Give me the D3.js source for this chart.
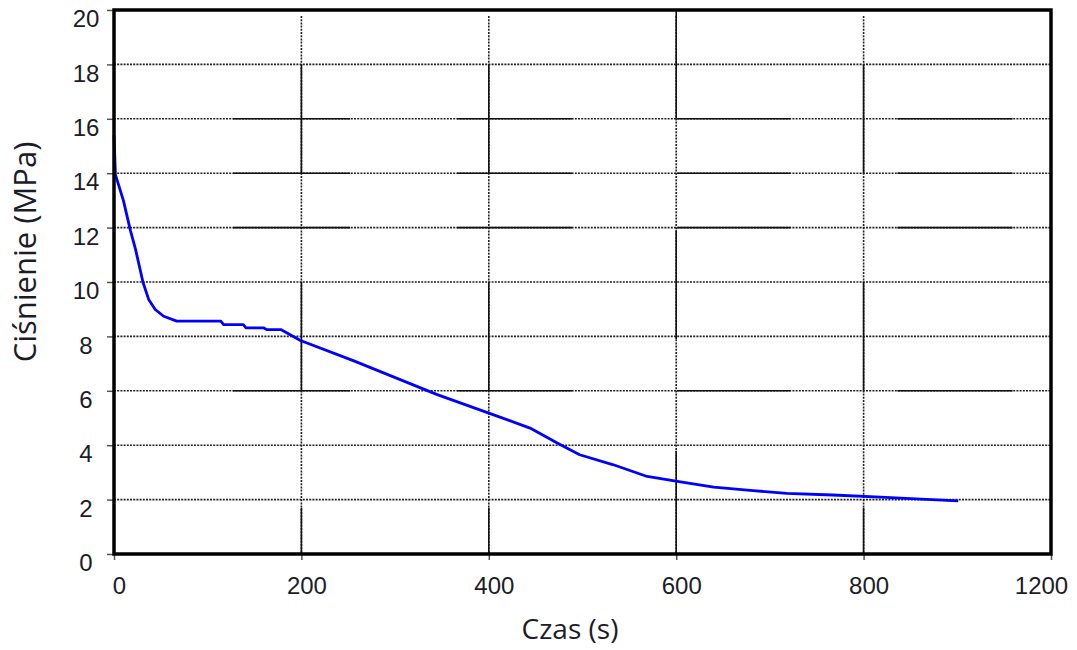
<!DOCTYPE html>
<html>
<head>
<meta charset="utf-8">
<script src="https://cdn.jsdelivr.net/npm/d3@7"></script>
<style>
  body { margin: 0; background: #fff; }
</style>
</head>
<body>
<div class="canvas"></div>
<script>
// data
const timeS = [0, 1.5, 10, 17.5, 23, 31, 37, 44, 53, 67, 114, 117, 138, 141, 160, 163, 178, 199,
  256, 345, 403, 444, 473, 497, 533, 569, 603, 640, 682, 718, 767, 818, 878, 901];
const pressure = [15.4, 13.95, 13.0, 11.9, 11.2, 9.98, 9.36, 8.99, 8.74, 8.56, 8.56, 8.43, 8.43, 8.31, 8.31, 8.25, 8.25, 7.85,
  7.1, 5.86, 5.14, 4.63, 4.08, 3.65, 3.28, 2.85, 2.66, 2.46, 2.33, 2.23, 2.17, 2.09, 1.99, 1.95];

const xTicks = [0, 200, 400, 600, 800, 1000];
const xTickLabels = ['0', '200', '400', '600', '800', '1200'];
const yTicks = [0, 2, 4, 6, 8, 10, 12, 14, 16, 18, 20];

// the scanned grid has some solid stretches on top of the dotted lines
const hSolidRows = [16, 14, 12, 6];
const hSolidSpans = [[127, 252], [366, 489], [601, 722], [836, 959]];
const vSolidCols = [200, 400, 800];
const vSolidSpans = [[14, 18], [6, 10], [0, 1.7]];
const vSolidCols600 = [600];
const vSolidSpans600 = [[16, 20], [7.9, 11.9], [0, 3.8]];

const data = timeS.map((t, i) => ({t: t, p: pressure[i]}));

// svg container
const svg = d3.select('.canvas')
  .append('svg')
    .attr('width', 1077)
    .attr('height', 650);

const margin = {top: 10, right: 26, bottom: 96, left: 114};
const graphWidth = 1077 - margin.left - margin.right;
const graphHeight = 650 - margin.top - margin.bottom;

const graph = svg.append('g')
  .attr('transform', `translate(${margin.left}, ${margin.top})`);

const x = d3.scaleLinear()
  .domain([0, 1000])
  .range([0, graphWidth]);

const y = d3.scaleLinear()
  .domain([0, 20])
  .range([graphHeight, 0]);

// dotted grid
const grid = graph.append('g')
  .attr('stroke', '#222')
  .attr('stroke-width', 1.6)
  .attr('stroke-dasharray', '2,1.2');

grid.selectAll('line.h')
  .data(yTicks.filter(d => d > 0 && d < 20))
  .enter().append('line')
    .attr('class', 'h')
    .attr('x1', 0).attr('x2', graphWidth)
    .attr('y1', d => y(d)).attr('y2', d => y(d));

grid.selectAll('line.v')
  .data(xTicks.filter(d => d > 0 && d < 1000))
  .enter().append('line')
    .attr('class', 'v')
    .attr('x1', d => x(d)).attr('x2', d => x(d))
    .attr('y1', 6).attr('y2', graphHeight);

// solid stretches
const solid = graph.append('g')
  .attr('stroke', '#111')
  .attr('stroke-width', 1.6);

hSolidRows.forEach(r => {
  solid.selectAll(null)
    .data(hSolidSpans)
    .enter().append('line')
      .attr('x1', d => x(d[0])).attr('x2', d => x(d[1]))
      .attr('y1', y(r)).attr('y2', y(r));
});

const vCols = vSolidCols.map(c => ({c: c, spans: vSolidSpans}))
  .concat(vSolidCols600.map(c => ({c: c, spans: vSolidSpans600})));

vCols.forEach(col => {
  solid.selectAll(null)
    .data(col.spans)
    .enter().append('line')
      .attr('x1', x(col.c)).attr('x2', x(col.c))
      .attr('y1', d => y(d[0])).attr('y2', d => y(d[1]));
});

// axes
const xAxis = d3.axisBottom(x)
  .tickValues(xTicks)
  .tickSize(6)
  .tickPadding(17)
  .tickFormat((d, i) => xTickLabels[i]);

const yAxis = d3.axisLeft(y)
  .tickValues(yTicks)
  .tickSize(7)
  .tickFormat(d => d);

const xAxisGroup = graph.append('g')
  .attr('transform', `translate(0, ${graphHeight})`)
  .call(xAxis);

const yAxisGroup = graph.append('g')
  .call(yAxis);

[xAxisGroup, yAxisGroup].forEach(g => {
  g.select('.domain').remove();
  g.selectAll('line').attr('stroke', '#555').attr('stroke-width', 1.5);
  g.selectAll('text')
    .attr('fill', '#1c1c28')
    .style('font-family', '"Liberation Sans", Arial, sans-serif')
    .style('font-size', '24px');
});

xAxisGroup.selectAll('text')
  .attr('dx', (d, i) => i === xTicks.length - 1 ? -10 : 5);

yAxisGroup.selectAll('text')
  .attr('text-anchor', 'middle')
  .attr('x', -28)
  .attr('y', 9);

// curve
const line = d3.line()
  .x(d => x(d.t))
  .y(d => y(d.p));

graph.append('path')
  .datum(data)
  .attr('fill', 'none')
  .attr('stroke', '#0000ff')
  .attr('stroke-width', 2.8)
  .attr('stroke-linejoin', 'round')
  .attr('d', line);

// frame
graph.append('rect')
  .attr('width', graphWidth)
  .attr('height', graphHeight)
  .attr('fill', 'none')
  .attr('stroke', '#000')
  .attr('stroke-width', 3.5);

// axis titles
svg.append('text')
  .attr('x', 570)
  .attr('y', 639)
  .attr('text-anchor', 'middle')
  .attr('fill', '#1c1c28')
  .style('font-family', '"Open Sans", sans-serif')
  .style('font-size', '28px')
  .text('Czas (s)');

svg.append('text')
  .attr('transform', 'translate(36, 252) rotate(-90)')
  .attr('text-anchor', 'middle')
  .attr('fill', '#1c1c28')
  .style('font-family', '"Open Sans", sans-serif')
  .style('font-size', '31px')
  .text('Ciśnienie (MPa)');
</script>
</body>
</html>
